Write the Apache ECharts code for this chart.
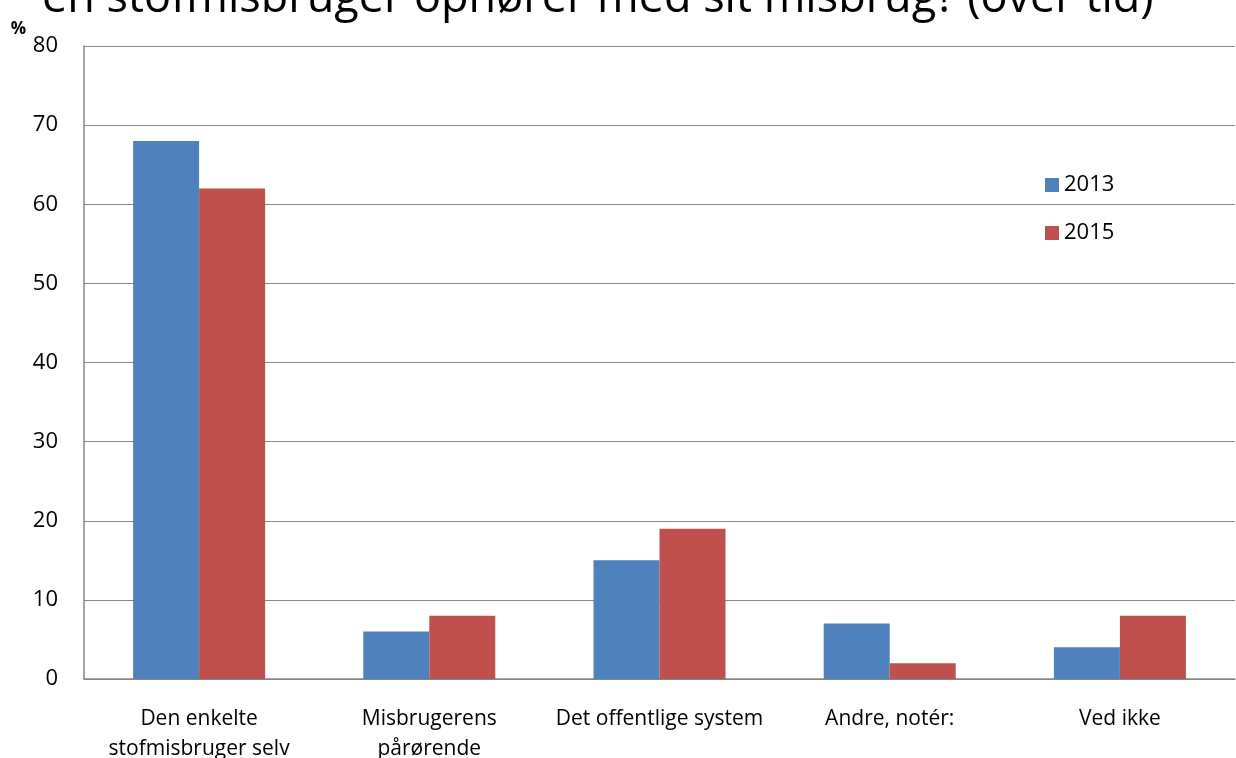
<!DOCTYPE html>
<html>
<head>
<meta charset="utf-8">
<script src="https://cdn.jsdelivr.net/npm/echarts@6/dist/echarts.min.js"></script>
<style>
  html, body { margin: 0; padding: 0; background: #fff; }
  #chart { width: 1236px; height: 758px; }
</style>
</head>
<body>
<div id="chart"></div>
<script>
  // data
  const categories = ['Den enkelte\nstofmisbruger selv', 'Misbrugerens\npårørende', 'Det offentlige system', 'Andre, notér:', 'Ved ikke'];
  const values2013 = [68, 6, 15, 7, 4];
  const values2015 = [62, 8, 19, 2, 8];
  const seriesNames = ['2013', '2015'];

  const chart = echarts.init(document.getElementById('chart'));
  const font = 'Open Sans';

  const option = {
    animation: false,
    textStyle: { fontFamily: font },
    title: {
      text: 'en stofmisbruger ophører med sit misbrug? (over tid)',
      left: 37,
      top: -28,
      textStyle: { fontFamily: font, fontSize: 45, fontWeight: 'normal', color: '#000' }
    },
    legend: {
      orient: 'vertical',
      left: 1040,
      top: 169,
      itemWidth: 14,
      itemHeight: 14,
      itemGap: 26,
      icon: 'rect',
      textStyle: { fontFamily: font, fontSize: 22, color: '#000' },
      data: seriesNames
    },
    grid: { left: 84, right: 1, top: 46, bottom: 79, outerBoundsMode: 'none' },
    xAxis: {
      type: 'category',
      data: categories,
      axisTick: { show: false },
      axisLine: { lineStyle: { color: '#868686', width: 1.5 } },
      axisLabel: { fontFamily: font, fontSize: 21, color: '#000', margin: 25, lineHeight: 30, interval: 0 }
    },
    yAxis: {
      type: 'value',
      name: '%',
      nameLocation: 'end',
      nameGap: 8,
      nameTextStyle: { fontFamily: font, fontSize: 17, fontWeight: 'bold', color: '#000', align: 'right', padding: [0, 58, 0, 0] },
      min: 0,
      max: 80,
      interval: 10,
      axisLine: { show: true, lineStyle: { color: '#868686', width: 1.5 } },
      axisTick: { show: false },
      axisLabel: { fontFamily: font, fontSize: 22, color: '#000', margin: 26 },
      splitLine: { lineStyle: { color: '#868686', width: 1.2 } }
    },
    series: [
      {
        name: seriesNames[0],
        type: 'bar',
        data: values2013,
        barWidth: 66,
        barGap: '0%',
        itemStyle: { color: '#4F81BD' }
      },
      {
        name: seriesNames[1],
        type: 'bar',
        data: values2015,
        barWidth: 66,
        barGap: '0%',
        itemStyle: { color: '#C0504D' }
      }
    ]
  };

  chart.setOption(option);
  window.addEventListener('resize', function () {
    chart.resize();
  });
</script>
</body>
</html>
